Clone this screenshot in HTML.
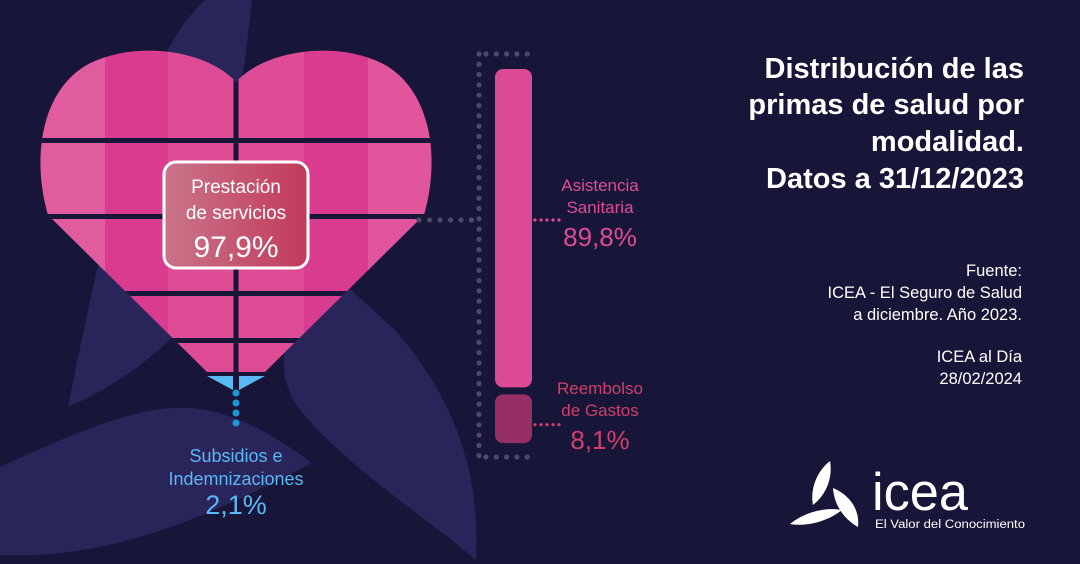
<!DOCTYPE html>
<html><head><meta charset="utf-8">
<style>
html,body{margin:0;padding:0;background:#171538;}
svg{display:block;}
text{font-family:"Liberation Sans",sans-serif;}
</style></head>
<body>
<svg width="1080" height="564" viewBox="0 0 1080 564" xmlns="http://www.w3.org/2000/svg">
<rect width="1080" height="564" fill="#171538"/>
<g fill="#29245a">
<path d="M252,0 L205,0 C150,50 115,170 68,407 C130,380 175,340 205,300 L245,60 Z"/>
<path d="M340,280 C290,320 265,360 300,410 C350,470 430,520 476,560 C480,470 455,400 395,330 Z"/>
<path d="M0,467 C80,430 140,405 190,408 C240,412 280,440 312,463 C220,510 120,560 0,555 Z"/>
</g>
<defs>
<clipPath id="heartClip">
<path d="M236,82 C205,48 130,40 85,66 C40,94 32,160 48,215 L207,372 L265,372 L424,215 C440,160 432,94 387,66 C342,40 267,48 236,82 Z"/>
</clipPath>
<linearGradient id="boxGrad" x1="0" x2="1"><stop offset="0" stop-color="#c9748a"/><stop offset="1" stop-color="#c23a5c"/></linearGradient>
</defs>
<g id="heart" clip-path="url(#heartClip)"></g>
<path d="M207,376 L233,376 L233,390 Z M239,376 L265,376 L239,390 Z" fill="#5ab8f5"/>
<g fill="#1899d6">
<circle cx="236" cy="393" r="3.5"/><circle cx="236" cy="403" r="3.5"/><circle cx="236" cy="413" r="3.5"/><circle cx="236" cy="423" r="3.5"/>
</g>
<rect x="164" y="162" width="144" height="106" rx="12" fill="url(#boxGrad)" stroke="#fff" stroke-width="3"/>
<text x="236" y="193" font-size="19" fill="#fff" text-anchor="middle">Prestación</text>
<text x="236" y="219" font-size="19" fill="#fff" text-anchor="middle">de servicios</text>
<text id="prestVal" x="236" y="257" font-size="30" fill="#fff" text-anchor="middle"></text>
<g id="bracket" fill="#4d4a6b"></g>
<g id="bars"></g>
<text x="236" y="462" font-size="18" fill="#5ab8f5" text-anchor="middle">Subsidios e</text>
<text x="236" y="485" font-size="18" fill="#5ab8f5" text-anchor="middle">Indemnizaciones</text>
<text id="subVal" x="236" y="514" font-size="27" fill="#5ab8f5" text-anchor="middle"></text>
<g font-size="29" font-weight="bold" fill="#fff" text-anchor="end">
<text x="1024" y="78">Distribución de las</text>
<text x="1024" y="114">primas de salud por</text>
<text x="1024" y="151">modalidad.</text>
<text x="1024" y="188">Datos a 31/12/2023</text>
</g>
<g font-size="16.5" fill="#fff" text-anchor="end">
<text x="1022" y="276">Fuente:</text>
<text x="1022" y="298">ICEA - El Seguro de Salud</text>
<text x="1022" y="320">a diciembre. Año 2023.</text>
<text x="1022" y="362">ICEA al Día</text>
<text x="1022" y="384">28/02/2024</text>
</g>
<g fill="#fff">
<path d="M830,461 C816,472 810,490 813,505 C826,495 833,478 830,461 Z"/>
<path d="M833,488 C850,495 860,510 858,527 C842,518 834,503 833,488 Z"/>
<path d="M790,524 C805,512 825,507 842,510 C828,521 808,527 790,524 Z"/>
<text x="872" y="510" font-size="53" textLength="96" lengthAdjust="spacingAndGlyphs">icea</text>
<text x="875" y="528" font-size="11.5" textLength="150" lengthAdjust="spacingAndGlyphs">El Valor del Conocimiento</text>
</g>
<script>
const categories = ["Asistencia Sanitaria", "Reembolso de Gastos"];
const barValues = [89.8, 8.1];
const heartValue = [97.9];
const subsidiosValue = [2.1];
const valueLabels = ["89,8%", "8,1%"];
const NS = "http://www.w3.org/2000/svg";
function mk(tag, attrs, parent){const e=document.createElementNS(NS,tag);for(const k in attrs)e.setAttribute(k,attrs[k]);parent.appendChild(e);return e;}
function fmt(v){return v.toFixed(1).replace('.',',')+'%';}
document.getElementById('prestVal').textContent = fmt(heartValue[0]);
document.getElementById('subVal').textContent = fmt(subsidiosValue[0]);
const heart = document.getElementById('heart');
const colCols = ["#e15c9f","#d93b8e","#dd4c95","#dd4c95","#d93b8e","#e0559b"];
const colX = [30,105,168,236,304,368,450];
for(let i=0;i<6;i++){
  const r = mk('rect',{x:colX[i],y:40,width:colX[i+1]-colX[i],height:340,fill:colCols[i]},heart);
  
  
}
const gapsY=[138,214,291,338];
gapsY.forEach(y=>{const g=mk('rect',{x:0,y:y,width:480,height:5,fill:'#171538'},heart);
  
  });
const vg=mk('rect',{x:233.5,y:60,width:5,height:320,fill:'#171538'},heart);


const barX=495, barW=37, barTop=69, gap=7;
function hScale(v){return 22+v*3.3;}
const bars=document.getElementById('bars');
const barCols=["#dc4a95","#952f66"];
const labCols=["#df4c95","#d0406a"];
let y=barTop;
barValues.forEach((v,i)=>{
  const h=hScale(v);
  const r=mk('rect',{x:barX,y:y,width:barW,height:h,rx:8,fill:barCols[i]},bars);
  
  
  const cy = i===0 ? 220 : y+h/2+6;
  for(let k=0;k<5;k++){const d=mk('circle',{cx:535+k*6,cy:cy,r:1.6,fill:labCols[i]},bars);
    
    }
  const words=categories[i].split(' ');
  const ly = i===0 ? 191 : 394;
  const lx = 600;
  [words[0], words.slice(1).join(' ')].forEach((w,j)=>{
    const t=mk('text',{x:lx,y:ly+j*22,'font-size':17,fill:labCols[i],'text-anchor':'middle'},bars);
    t.textContent=w;
    
    
  });
  const tv=mk('text',{x:lx,y:ly+55,'font-size':26,fill:labCols[i],'text-anchor':'middle'},bars);
  tv.textContent=valueLabels[i];
  
  
  y+=h+gap;
});
const br=document.getElementById('bracket');
for(let yy=54;yy<=457;yy+=10.3){const c=mk('circle',{cx:479,cy:yy,r:2.6},br);}
for(let xx=486;xx<=537;xx+=10.3){[54,457].forEach(yy=>{const c=mk('circle',{cx:xx,cy:yy,r:2.6},br);});}
for(let xx=419;xx<=472;xx+=10.5){const c=mk('circle',{cx:xx,cy:220,r:2.6},br);}
</script>
</svg>
</body></html>
